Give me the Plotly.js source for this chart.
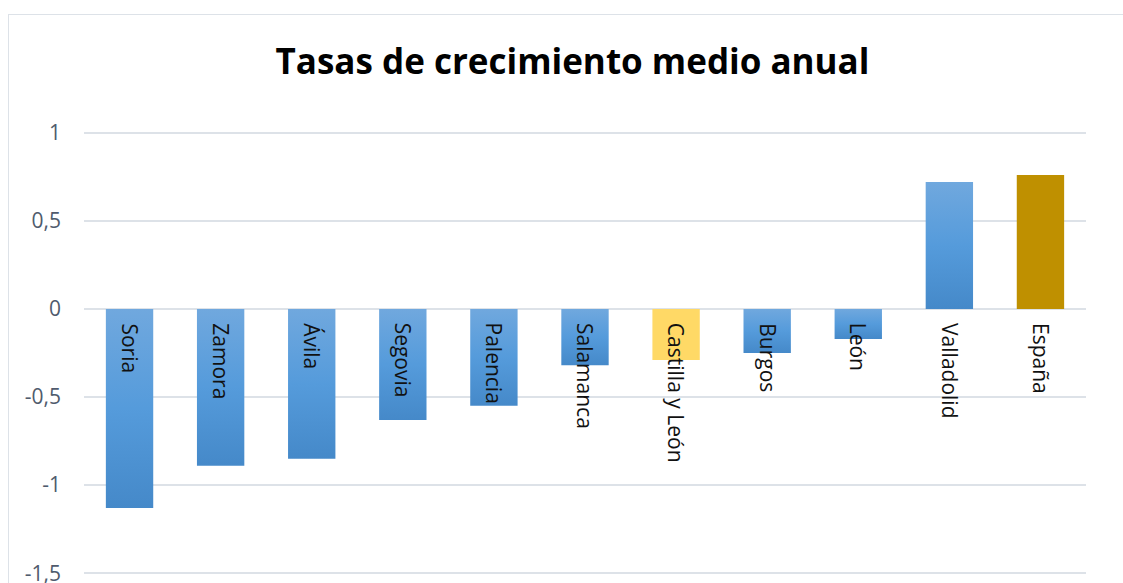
<!DOCTYPE html>
<html>
<head>
<meta charset="utf-8">
<script src="https://cdn.plot.ly/plotly-3.0.1.min.js"></script>
<style>
  html, body { margin: 0; padding: 0; background: #fff; }
  #wrap { position: relative; width: 1123px; height: 583px; overflow: hidden; }
  #frame { position: absolute; left: 8px; top: 14px; width: 1200px; height: 700px;
           border: 1.5px solid #DDE2E8; box-sizing: border-box; pointer-events: none; z-index: 2; }
  #chart { position: absolute; left: 0; top: 0; width: 1123px; height: 583px; }
</style>
</head>
<body>
<div id="wrap">
  <div id="chart"></div>
  <div id="frame"></div>
</div>
<script>
const categories = ["Soria", "Zamora", "Ávila", "Segovia", "Palencia", "Salamanca",
                    "Castilla y León", "Burgos", "León", "Valladolid", "España"];
const values = [-1.13, -0.89, -0.85, -0.63, -0.55, -0.32, -0.29, -0.25, -0.17, 0.72, 0.76];
const barColors = ["blue", "blue", "blue", "blue", "blue", "blue",
                   "#FFD966", "blue", "blue", "blue", "#BF9000"];
const tickVals = [-1.5, -1, -0.5, 0, 0.5, 1];
const tickText = ["-1,5", "-1", "-0,5", "0", "0,5", "1"];
const chartTitle = "Tasas de crecimiento medio anual";

const BLUE_MID = "#5A9BD8";
const colors = barColors.map(c => c === "blue" ? BLUE_MID : c);
const FONT = "'Open Sans', 'Noto Sans', sans-serif";

const trace = {
  type: "bar",
  x: categories,
  y: values,
  width: 0.52,
  marker: { color: colors, line: { width: 0 } },
  hoverinfo: "x+y"
};

const annotations = categories.map(c => ({
  x: c, y: 0, xref: "x", yref: "y",
  text: c, showarrow: false, textangle: 90,
  xanchor: "center", yanchor: "top", yshift: -12,
  font: { family: FONT, size: 21, color: "#111" }
}));

const layout = {
  width: 1123, height: 583,
  margin: { l: 84, r: 37, t: 130.5, b: 8 },
  paper_bgcolor: "rgba(0,0,0,0)",
  plot_bgcolor: "rgba(0,0,0,0)",
  showlegend: false,
  title: {
    text: "<b>" + chartTitle + "</b>",
    x: 572.5 / 1123, xanchor: "center", xref: "container",
    y: 1 - 62 / 583, yanchor: "middle", yref: "container",
    font: { family: FONT, size: 35, color: "#000" }
  },
  xaxis: {
    showticklabels: false, showgrid: false, zeroline: false, showline: false,
    ticks: "", fixedrange: true
  },
  yaxis: {
    range: [-1.51, 1.01], tickmode: "array", tickvals: tickVals, ticktext: tickText,
    showgrid: true, gridcolor: "#DDE2E8", gridwidth: 2,
    zeroline: true, zerolinecolor: "#DDE2E8", zerolinewidth: 2,
    showline: false, ticks: "", ticklabelstandoff: 22,
    ticklabeloverflow: "allow",
    tickfont: { family: FONT, size: 21, color: "#4F5B6D" },
    fixedrange: true
  },
  annotations: annotations
};

Plotly.newPlot("chart", [trace], layout, { displayModeBar: false, staticPlot: true }).then(gd => {
  const svg = gd.querySelector(".main-svg");
  let defs = svg.querySelector("defs");
  if (!defs) { defs = document.createElementNS("http://www.w3.org/2000/svg", "defs"); svg.prepend(defs); }
  const ns = "http://www.w3.org/2000/svg";
  const lg = document.createElementNS(ns, "linearGradient");
  lg.setAttribute("id", "blueGrad");
  lg.setAttribute("x1", "0"); lg.setAttribute("y1", "0");
  lg.setAttribute("x2", "0"); lg.setAttribute("y2", "1");
  [["0%", "#70A8DE"], ["50%", "#559BDB"], ["100%", "#4589C9"]].forEach(([o, c]) => {
    const s = document.createElementNS(ns, "stop");
    s.setAttribute("offset", o); s.setAttribute("stop-color", c);
    lg.appendChild(s);
  });
  defs.appendChild(lg);
  const paths = gd.querySelectorAll(".barlayer .point path");
  paths.forEach((p, i) => {
    if (barColors[i] === "blue") p.style.fill = "url(#blueGrad)";
  });
});
</script>
</body>
</html>
